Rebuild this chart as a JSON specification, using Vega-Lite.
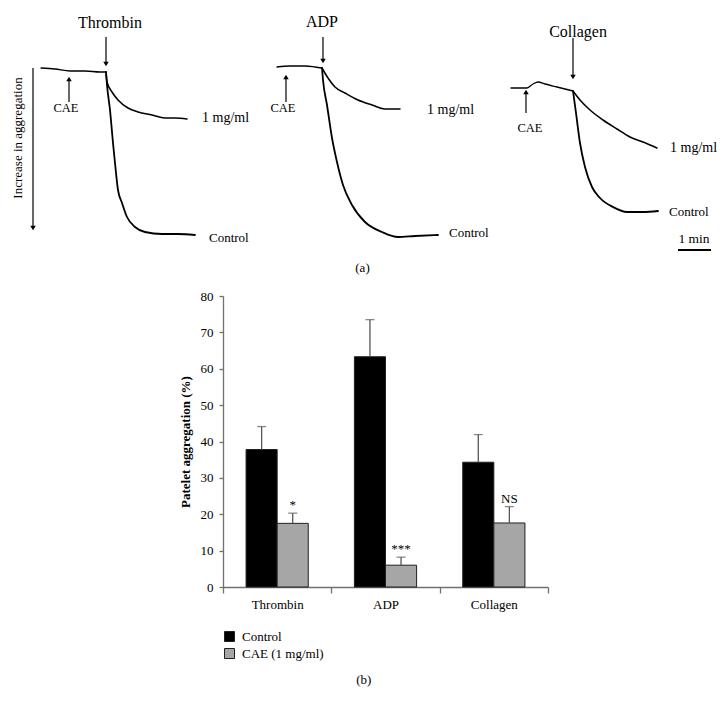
{
  "$schema": "https://vega.github.io/schema/vega-lite/v6.json",
  "padding": 0,
  "spacing": 15,
  "resolve": {"legend": {"fill": "independent", "strokeWidth": "independent", "shape": "independent"}},
  "config": {
    "font": "Liberation Serif",
    "view": {"stroke": null},
    "title": {"fontSize": 13, "fontWeight": "normal", "color": "black", "font": "Liberation Serif"}
  },
  "datasets": {
    "traces": [
      {"agonist": "Thrombin", "trace": "baseline", "t": 41, "s": 68},
      {"agonist": "Thrombin", "trace": "baseline", "t": 55, "s": 69},
      {"agonist": "Thrombin", "trace": "baseline", "t": 70, "s": 71},
      {"agonist": "Thrombin", "trace": "baseline", "t": 85, "s": 71},
      {"agonist": "Thrombin", "trace": "baseline", "t": 100, "s": 72},
      {"agonist": "Thrombin", "trace": "baseline", "t": 106, "s": 72},
      {"agonist": "Thrombin", "trace": "CAE 1 mg/ml", "t": 106, "s": 72},
      {"agonist": "Thrombin", "trace": "CAE 1 mg/ml", "t": 107, "s": 82},
      {"agonist": "Thrombin", "trace": "CAE 1 mg/ml", "t": 112, "s": 92},
      {"agonist": "Thrombin", "trace": "CAE 1 mg/ml", "t": 118, "s": 100},
      {"agonist": "Thrombin", "trace": "CAE 1 mg/ml", "t": 128, "s": 108},
      {"agonist": "Thrombin", "trace": "CAE 1 mg/ml", "t": 138, "s": 112},
      {"agonist": "Thrombin", "trace": "CAE 1 mg/ml", "t": 152, "s": 115},
      {"agonist": "Thrombin", "trace": "CAE 1 mg/ml", "t": 165, "s": 118},
      {"agonist": "Thrombin", "trace": "CAE 1 mg/ml", "t": 175, "s": 118},
      {"agonist": "Thrombin", "trace": "CAE 1 mg/ml", "t": 187, "s": 119},
      {"agonist": "Thrombin", "trace": "Control", "t": 106, "s": 72},
      {"agonist": "Thrombin", "trace": "Control", "t": 107, "s": 85},
      {"agonist": "Thrombin", "trace": "Control", "t": 110, "s": 110},
      {"agonist": "Thrombin", "trace": "Control", "t": 113, "s": 143},
      {"agonist": "Thrombin", "trace": "Control", "t": 116, "s": 173},
      {"agonist": "Thrombin", "trace": "Control", "t": 118, "s": 190},
      {"agonist": "Thrombin", "trace": "Control", "t": 122, "s": 203},
      {"agonist": "Thrombin", "trace": "Control", "t": 127, "s": 217},
      {"agonist": "Thrombin", "trace": "Control", "t": 135, "s": 227},
      {"agonist": "Thrombin", "trace": "Control", "t": 145, "s": 232},
      {"agonist": "Thrombin", "trace": "Control", "t": 162, "s": 234},
      {"agonist": "Thrombin", "trace": "Control", "t": 178, "s": 234},
      {"agonist": "Thrombin", "trace": "Control", "t": 195, "s": 235},
      {"agonist": "ADP", "trace": "baseline", "t": 277, "s": 67},
      {"agonist": "ADP", "trace": "baseline", "t": 290, "s": 66},
      {"agonist": "ADP", "trace": "baseline", "t": 305, "s": 66},
      {"agonist": "ADP", "trace": "baseline", "t": 315, "s": 67},
      {"agonist": "ADP", "trace": "baseline", "t": 322, "s": 68},
      {"agonist": "ADP", "trace": "CAE 1 mg/ml", "t": 322, "s": 68},
      {"agonist": "ADP", "trace": "CAE 1 mg/ml", "t": 328, "s": 78},
      {"agonist": "ADP", "trace": "CAE 1 mg/ml", "t": 335, "s": 87},
      {"agonist": "ADP", "trace": "CAE 1 mg/ml", "t": 345, "s": 93},
      {"agonist": "ADP", "trace": "CAE 1 mg/ml", "t": 358, "s": 100},
      {"agonist": "ADP", "trace": "CAE 1 mg/ml", "t": 372, "s": 105},
      {"agonist": "ADP", "trace": "CAE 1 mg/ml", "t": 385, "s": 109},
      {"agonist": "ADP", "trace": "CAE 1 mg/ml", "t": 400, "s": 109},
      {"agonist": "ADP", "trace": "Control", "t": 322, "s": 68},
      {"agonist": "ADP", "trace": "Control", "t": 323, "s": 80},
      {"agonist": "ADP", "trace": "Control", "t": 327, "s": 105},
      {"agonist": "ADP", "trace": "Control", "t": 332, "s": 138},
      {"agonist": "ADP", "trace": "Control", "t": 337, "s": 162},
      {"agonist": "ADP", "trace": "Control", "t": 343, "s": 185},
      {"agonist": "ADP", "trace": "Control", "t": 352, "s": 205},
      {"agonist": "ADP", "trace": "Control", "t": 365, "s": 222},
      {"agonist": "ADP", "trace": "Control", "t": 382, "s": 232},
      {"agonist": "ADP", "trace": "Control", "t": 398, "s": 237},
      {"agonist": "ADP", "trace": "Control", "t": 415, "s": 236},
      {"agonist": "ADP", "trace": "Control", "t": 438, "s": 235},
      {"agonist": "Collagen", "trace": "baseline", "t": 511, "s": 88},
      {"agonist": "Collagen", "trace": "baseline", "t": 520, "s": 88},
      {"agonist": "Collagen", "trace": "baseline", "t": 527, "s": 88},
      {"agonist": "Collagen", "trace": "baseline", "t": 533, "s": 84},
      {"agonist": "Collagen", "trace": "baseline", "t": 538, "s": 82},
      {"agonist": "Collagen", "trace": "baseline", "t": 545, "s": 84},
      {"agonist": "Collagen", "trace": "baseline", "t": 557, "s": 87},
      {"agonist": "Collagen", "trace": "baseline", "t": 573, "s": 91},
      {"agonist": "Collagen", "trace": "CAE 1 mg/ml", "t": 573, "s": 91},
      {"agonist": "Collagen", "trace": "CAE 1 mg/ml", "t": 580, "s": 100},
      {"agonist": "Collagen", "trace": "CAE 1 mg/ml", "t": 590, "s": 110},
      {"agonist": "Collagen", "trace": "CAE 1 mg/ml", "t": 603, "s": 120},
      {"agonist": "Collagen", "trace": "CAE 1 mg/ml", "t": 617, "s": 129},
      {"agonist": "Collagen", "trace": "CAE 1 mg/ml", "t": 630, "s": 137},
      {"agonist": "Collagen", "trace": "CAE 1 mg/ml", "t": 643, "s": 142},
      {"agonist": "Collagen", "trace": "CAE 1 mg/ml", "t": 657, "s": 148},
      {"agonist": "Collagen", "trace": "Control", "t": 573, "s": 91},
      {"agonist": "Collagen", "trace": "Control", "t": 576, "s": 113},
      {"agonist": "Collagen", "trace": "Control", "t": 580, "s": 143},
      {"agonist": "Collagen", "trace": "Control", "t": 585, "s": 167},
      {"agonist": "Collagen", "trace": "Control", "t": 592, "s": 187},
      {"agonist": "Collagen", "trace": "Control", "t": 600, "s": 198},
      {"agonist": "Collagen", "trace": "Control", "t": 613, "s": 207},
      {"agonist": "Collagen", "trace": "Control", "t": 627, "s": 212},
      {"agonist": "Collagen", "trace": "Control", "t": 643, "s": 212},
      {"agonist": "Collagen", "trace": "Control", "t": 658, "s": 211}
    ],
    "arrows": [
      {"what": "Increase in aggregation", "t": 33, "from": 68, "to": 228, "dir": "down"},
      {"what": "Thrombin", "t": 106, "from": 37, "to": 64, "dir": "down"},
      {"what": "ADP", "t": 323, "from": 37, "to": 61, "dir": "down"},
      {"what": "Collagen", "t": 573, "from": 38, "to": 77, "dir": "down"},
      {"what": "CAE", "t": 69, "from": 102, "to": 79, "dir": "up"},
      {"what": "CAE", "t": 286, "from": 102, "to": 77, "dir": "up"},
      {"what": "CAE", "t": 526, "from": 113, "to": 92, "dir": "up"}
    ],
    "bars": [
      {"agonist": "Thrombin", "group": "Control", "value": 37.8, "upper": 44.1, "sig": ""},
      {"agonist": "Thrombin", "group": "CAE (1 mg/ml)", "value": 17.5, "upper": 20.3, "sig": "*"},
      {"agonist": "ADP", "group": "Control", "value": 63.3, "upper": 73.5, "sig": ""},
      {"agonist": "ADP", "group": "CAE (1 mg/ml)", "value": 6.0, "upper": 8.2, "sig": "***"},
      {"agonist": "Collagen", "group": "Control", "value": 34.3, "upper": 41.9, "sig": ""},
      {"agonist": "Collagen", "group": "CAE (1 mg/ml)", "value": 17.6, "upper": 22.1, "sig": "NS"}
    ]
  },
  "vconcat": [
    {
      "width": 725,
      "height": 255,
      "title": {"text": "(a)", "orient": "bottom", "anchor": "middle", "offset": 7},
      "layer": [
        {
          "data": {"name": "traces"},
          "mark": {"type": "line", "color": "black", "strokeCap": "round", "strokeJoin": "round", "interpolate": "monotone"},
          "encoding": {
            "x": {"field": "t", "type": "quantitative", "scale": {"domain": [0, 725], "nice": false, "zero": false}, "axis": null},
            "y": {"field": "s", "type": "quantitative", "scale": {"domain": [0, 255], "nice": false, "zero": false, "reverse": true}, "axis": null},
            "detail": [{"field": "agonist"}, {"field": "trace"}],
            "strokeWidth": {"field": "trace", "type": "nominal", "scale": {"domain": ["baseline", "CAE 1 mg/ml", "Control"], "range": [1.3, 1.8, 3.4]}, "legend": null}
          }
        },
        {
          "data": {"name": "arrows"},
          "mark": {"type": "rule", "color": "black", "strokeWidth": 1.2},
          "encoding": {
            "x": {"field": "t", "type": "quantitative"},
            "y": {"field": "from", "type": "quantitative"},
            "y2": {"field": "to"}
          }
        },
        {
          "data": {"name": "arrows"},
          "mark": {"type": "point", "filled": true, "color": "black", "opacity": 1, "size": 30},
          "encoding": {
            "x": {"field": "t", "type": "quantitative"},
            "y": {"field": "to", "type": "quantitative"},
            "shape": {"field": "dir", "type": "nominal", "scale": {"domain": ["down", "up"], "range": ["triangle-down", "triangle-up"]}, "legend": null}
          }
        },
        {
          "data": {"values": [{"label": "Thrombin", "t": 110, "s": 23}, {"label": "ADP", "t": 322, "s": 22}, {"label": "Collagen", "t": 578, "s": 32}]},
          "mark": {"type": "text", "fontSize": 16, "baseline": "middle", "align": "center", "color": "black"},
          "encoding": {"x": {"field": "t", "type": "quantitative"}, "y": {"field": "s", "type": "quantitative"}, "text": {"field": "label"}}
        },
        {
          "data": {"values": [{"label": "CAE", "t": 66, "s": 108}, {"label": "CAE", "t": 283, "s": 108}, {"label": "CAE", "t": 530, "s": 128}]},
          "mark": {"type": "text", "fontSize": 12.5, "baseline": "middle", "align": "center", "color": "black"},
          "encoding": {"x": {"field": "t", "type": "quantitative"}, "y": {"field": "s", "type": "quantitative"}, "text": {"field": "label"}}
        },
        {
          "data": {"values": [
            {"label": "1 mg/ml", "t": 202, "s": 118}, {"label": "1 mg/ml", "t": 427, "s": 110}, {"label": "1 mg/ml", "t": 670, "s": 148}
          ]},
          "mark": {"type": "text", "fontSize": 14, "baseline": "middle", "align": "left", "color": "black"},
          "encoding": {"x": {"field": "t", "type": "quantitative"}, "y": {"field": "s", "type": "quantitative"}, "text": {"field": "label"}}
        },
        {
          "data": {"values": [
            {"label": "Control", "t": 209, "s": 238}, {"label": "Control", "t": 449, "s": 233}, {"label": "Control", "t": 669, "s": 212}
          ]},
          "mark": {"type": "text", "fontSize": 13, "baseline": "middle", "align": "left", "color": "black"},
          "encoding": {"x": {"field": "t", "type": "quantitative"}, "y": {"field": "s", "type": "quantitative"}, "text": {"field": "label"}}
        },
        {
          "data": {"values": [{"label": "Increase in aggregation", "t": 18, "s": 138}]},
          "mark": {"type": "text", "fontSize": 13, "baseline": "middle", "align": "center", "angle": 270, "color": "black"},
          "encoding": {"x": {"field": "t", "type": "quantitative"}, "y": {"field": "s", "type": "quantitative"}, "text": {"field": "label"}}
        },
        {
          "data": {"values": [{"label": "1 min", "t": 694, "s": 239, "t2": 678, "t3": 711, "s2": 250}]},
          "layer": [
            {
              "mark": {"type": "text", "fontSize": 13.5, "baseline": "middle", "align": "center", "color": "black"},
              "encoding": {"x": {"field": "t", "type": "quantitative"}, "y": {"field": "s", "type": "quantitative"}, "text": {"field": "label"}}
            },
            {
              "mark": {"type": "rule", "color": "black", "strokeWidth": 2},
              "encoding": {"x": {"field": "t2", "type": "quantitative"}, "x2": {"field": "t3"}, "y": {"field": "s2", "type": "quantitative"}}
            }
          ]
        }
      ]
    },
    {
      "spacing": 79,
      "resolve": {"legend": {"fill": "independent"}},
      "hconcat": [
        {
          "width": 100,
          "height": 10,
          "data": {"values": [{"blank": ""}]},
          "mark": {"type": "text"},
          "encoding": {"text": {"field": "blank"}}
        },
        {
          "width": 325,
          "height": 291,
          "data": {"name": "bars"},
          "title": {"text": "(b)", "orient": "bottom", "anchor": "middle", "frame": "bounds", "offset": 13},
          "encoding": {
            "x": {
              "field": "agonist", "type": "nominal", "sort": ["Thrombin", "ADP", "Collagen"],
              "scale": {"paddingInner": 0, "paddingOuter": 0},
              "axis": {"title": null, "labelAngle": 0, "tickBand": "extent", "tickSize": 6, "labelPadding": 5, "labelFontSize": 13, "labelColor": "black", "domainColor": "#707070", "tickColor": "#707070", "domainWidth": 1.3, "tickWidth": 1.3}
            },
            "xOffset": {"field": "group", "type": "nominal", "sort": ["Control", "CAE (1 mg/ml)"], "scale": {"paddingInner": 0, "paddingOuter": 0.742}},
            "y": {
              "field": "value", "type": "quantitative", "title": "Patelet aggregation (%)",
              "scale": {"domain": [0, 80], "nice": false},
              "axis": {"values": [0, 10, 20, 30, 40, 50, 60, 70, 80], "tickCount": 12, "labelOverlap": false, "grid": false, "tickSize": 4, "labelPadding": 6, "labelFontSize": 13, "labelColor": "black", "domainColor": "#707070", "tickColor": "#707070", "domainWidth": 1.3, "tickWidth": 1.3, "titleFontWeight": "bold", "titleFontSize": 13, "titleColor": "black", "titlePadding": 8}
            }
          },
          "layer": [
            {
              "mark": {"type": "bar", "stroke": "#202020", "strokeWidth": 1, "opacity": 1},
              "encoding": {
                "fill": {
                  "field": "group", "type": "nominal",
                  "scale": {"domain": ["Control", "CAE (1 mg/ml)"], "range": ["#000000", "#a6a6a6"]},
                  "legend": {"title": null, "orient": "none", "legendX": 0, "legendY": 334, "direction": "vertical", "symbolType": "square", "symbolSize": 100, "symbolStrokeColor": "#202020", "symbolStrokeWidth": 1, "symbolOpacity": 1, "labelFontSize": 13, "labelColor": "black", "labelOffset": 6, "rowPadding": 2}
                }
              }
            },
            {
              "mark": {"type": "rule", "color": "#555555", "strokeWidth": 1.3},
              "encoding": {
                "y2": {"field": "upper"}
              }
            },
            {
              "mark": {"type": "tick", "color": "#555555", "thickness": 1.3, "size": 9},
              "encoding": {"y": {"field": "upper", "type": "quantitative", "title": "Patelet aggregation (%)", "axis": {"values": [0, 10, 20, 30, 40, 50, 60, 70, 80], "tickCount": 12, "labelOverlap": false, "grid": false, "tickSize": 4, "labelPadding": 6, "labelFontSize": 13, "labelColor": "black", "domainColor": "#707070", "tickColor": "#707070", "domainWidth": 1.3, "tickWidth": 1.3, "titleFontWeight": "bold", "titleFontSize": 13, "titleColor": "black", "titlePadding": 8}}}
            },
            {
              "mark": {"type": "text", "fontSize": 13, "baseline": "bottom", "dy": -1, "color": "black"},
              "encoding": {"y": {"field": "upper", "type": "quantitative", "title": "Patelet aggregation (%)", "axis": {"values": [0, 10, 20, 30, 40, 50, 60, 70, 80], "tickCount": 12, "labelOverlap": false, "grid": false, "tickSize": 4, "labelPadding": 6, "labelFontSize": 13, "labelColor": "black", "domainColor": "#707070", "tickColor": "#707070", "domainWidth": 1.3, "tickWidth": 1.3, "titleFontWeight": "bold", "titleFontSize": 13, "titleColor": "black", "titlePadding": 8}}, "text": {"field": "sig"}}
            }
          ]
        }
      ]
    }
  ]
}
